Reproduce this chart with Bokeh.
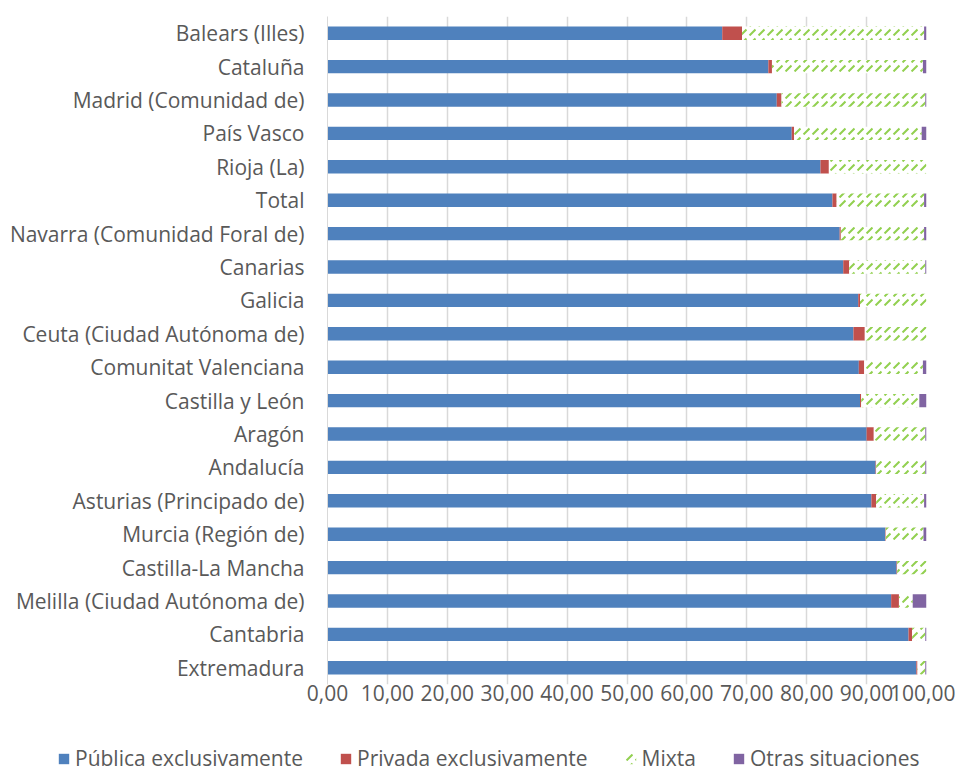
from bokeh.plotting import figure
from bokeh.models import FactorRange, Range1d, Legend, LegendItem, ColumnDataSource, FixedTicker
from bokeh.transform import stack
from bokeh.embed import file_html
from bokeh.resources import INLINE

categories = [
    "Balears (Illes)", "Cataluña", "Madrid (Comunidad de)", "País Vasco", "Rioja (La)",
    "Total", "Navarra (Comunidad Foral de)", "Canarias", "Galicia", "Ceuta (Ciudad Autónoma de)",
    "Comunitat Valenciana", "Castilla y León", "Aragón", "Andalucía", "Asturias (Principado de)",
    "Murcia (Región de)", "Castilla-La Mancha", "Melilla (Ciudad Autónoma de)", "Cantabria", "Extremadura",
]
publica = [65.9, 73.6, 75.0, 77.5, 82.3, 84.3, 85.5, 86.1, 88.6, 87.8,
           88.7, 88.9, 90.0, 91.5, 90.8, 93.1, 95.0, 94.1, 97.0, 98.3]
privada = [3.3, 0.6, 0.8, 0.4, 1.4, 0.7, 0.2, 1.0, 0.3, 1.9,
           0.9, 0.2, 1.2, 0.1, 0.8, 0.1, 0.1, 1.3, 0.6, 0.2]
mixta = [30.4, 25.2, 24.0, 21.3, 16.3, 14.6, 13.9, 12.7, 11.1, 10.3,
         9.8, 9.7, 8.6, 8.2, 8.0, 6.3, 4.9, 2.3, 2.2, 1.3]
otras = [0.4, 0.6, 0.2, 0.8, 0.0, 0.4, 0.4, 0.2, 0.0, 0.0,
         0.6, 1.2, 0.2, 0.2, 0.4, 0.5, 0.0, 2.3, 0.2, 0.2]
series_names = ["Pública exclusivamente", "Privada exclusivamente", "Mixta", "Otras situaciones"]
tick_values = [0, 10, 20, 30, 40, 50, 60, 70, 80, 90, 100]
tick_labels = ["0,00", "10,00", "20,00", "30,00", "40,00", "50,00", "60,00", "70,00", "80,00", "90,00", "100,00"]

FONT = "Open Sans"
TXT = "#595959"
FS = "21px"

styles = [
    dict(fill_color="#4F81BD", line_color=None),
    dict(fill_color="#C0504D", line_color=None),
    dict(fill_color="white", line_color=None, hatch_pattern="right_diagonal_dash",
         hatch_color="#92D050", hatch_scale=9, hatch_weight=2),
    dict(fill_color="#8064A2", line_color=None),
]
bounds = [
    (0, stack("pub")),
    (stack("pub"), stack("pub", "priv")),
    (stack("pub", "priv"), stack("pub", "priv", "mix")),
    (stack("pub", "priv", "mix"), stack("pub", "priv", "mix", "otr")),
]

src = ColumnDataSource(dict(cat=categories, pub=publica, priv=privada, mix=mixta, otr=otras))

p = figure(frame_width=599, frame_height=668, y_range=FactorRange(factors=categories[::-1]),
           x_range=Range1d(0, 100), output_backend="svg", toolbar_location=None,
           min_border_left=327, min_border_right=29, min_border_top=16, min_border_bottom=30)
p.outline_line_color = None

h = 0.4
for (lft, rgt), s in zip(bounds, styles):
    p.hbar(y="cat", left=lft, right=rgt, height=h, source=src, **s)

p.xaxis.ticker = FixedTicker(ticks=tick_values)
p.xaxis.major_label_overrides = {v: l for v, l in zip(tick_values, tick_labels)}
p.xaxis.axis_line_color = None
p.xaxis.major_tick_line_color = None
p.xaxis.minor_tick_line_color = None
p.xaxis.major_tick_out = 0
p.xaxis.major_label_standoff = 0
p.xaxis.major_label_text_font = FONT
p.xaxis.major_label_text_font_size = FS
p.xaxis.major_label_text_color = TXT

p.yaxis.axis_line_color = "#D9D9D9"
p.yaxis.axis_line_width = 1
p.yaxis.major_tick_line_color = None
p.yaxis.major_tick_out = 0
p.yaxis.major_label_standoff = 23
p.yaxis.major_label_text_font = FONT
p.yaxis.major_label_text_font_size = FS
p.yaxis.major_label_text_color = TXT

p.xgrid.grid_line_color = "#D9D9D9"
p.xgrid.grid_line_width = 1.5
p.ygrid.grid_line_color = None

# legend strip below the chart (separate root, frame spans its whole width)
pl = figure(width=955, height=60, x_range=Range1d(-2, -1), y_range=FactorRange(factors=categories[::-1]),
            x_axis_type=None, y_axis_type=None, output_backend="svg", toolbar_location=None,
            min_border_left=0, min_border_right=0, min_border_top=0, min_border_bottom=0)
pl.outline_line_color = None
pl.grid.visible = False
proxies = [pl.hbar(y="cat", left=lft, right=rgt, height=h, source=src, **s)
           for (lft, rgt), s in zip(bounds, styles)]

legend = Legend(items=[LegendItem(label=n, renderers=[r]) for n, r in zip(series_names, proxies)],
                orientation="horizontal", location=(57, 2))
legend.glyph_width = 13
legend.glyph_height = 13
legend.label_standoff = 5
legend.spacing = 36
legend.padding = 0
legend.margin = 0
legend.border_line_color = None
legend.background_fill_alpha = 0
legend.label_text_font = FONT
legend.label_text_font_size = FS
legend.label_text_color = TXT
pl.add_layout(legend, "center")

open("out.html", "w").write(file_html([p, pl], INLINE))
